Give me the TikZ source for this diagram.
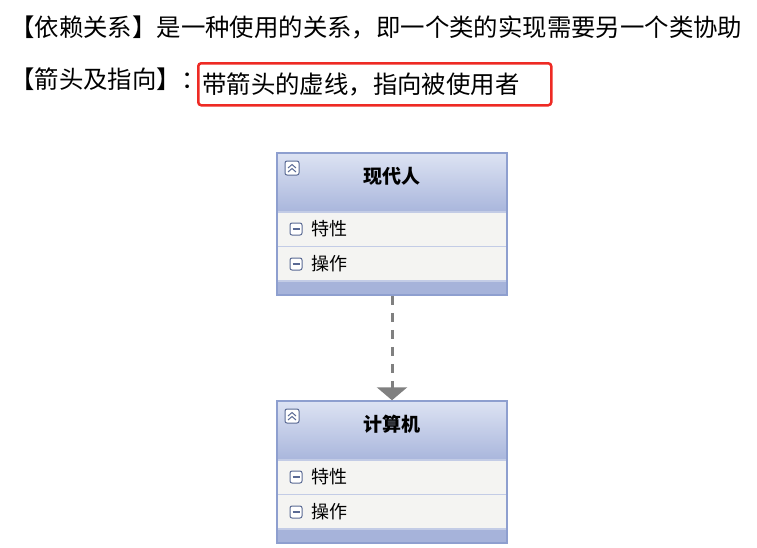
\documentclass[tikz,border=0pt]{standalone}
\usepackage{fontspec}
\setmainfont{Noto Sans CJK SC}
\usepackage{tikz}
\usetikzlibrary{arrows.meta,positioning,calc}
\definecolor{umlborder}{HTML}{8E9FCF}
\definecolor{hdtop}{HTML}{DDE3F3}
\definecolor{hdbot}{HTML}{A9B6DC}
\definecolor{rowfill}{HTML}{F4F4F2}
\definecolor{rowline}{HTML}{C3CCE6}
\definecolor{footfill}{HTML}{A6B3DA}
\definecolor{iconline}{HTML}{5A6A94}
\definecolor{deparrow}{HTML}{808080}
\definecolor{markred}{HTML}{EE2A24}
\tikzset{
  >=Stealth,
  classbox/.style={rectangle, draw=umlborder, line width=1.5pt, minimum width=230pt, minimum height=142pt, inner sep=0pt},
  ctitle/.style={font=\bfseries\fontsize{19}{21}\selectfont},
  member/.style={font=\fontsize{18}{20}\selectfont, anchor=west, inner sep=0pt},
  minusbox/.style={rectangle, draw=iconline, fill=white, rounded corners=2pt, minimum size=12pt, inner sep=0pt, line width=1pt},
  txt/.style={font=\fontsize{24.4}{26}\selectfont, anchor=west, inner sep=0pt},
  redbox/.style={draw=markred, line width=2.5pt, rounded corners=3pt, anchor=north west, minimum height=42pt, text width=345pt, inner xsep=4pt, align=left, font=\fontsize{24.4}{26}\selectfont},
  dep/.style={-{Triangle[width=30pt,length=13pt]}, deparrow, line width=3pt, dash pattern=on 9pt off 8pt}
}
\begin{document}
\begin{tikzpicture}[x=1pt,y=-1pt]
    \useasboundingbox (0,0) rectangle (757,547);

    % Text lines
    \node[txt] (desc) at (10,27) {【依赖关系】是一种使用的关系，即一个类的实现需要另一个类协助};
    \node[txt] (head) at (10,79) {【箭头及指向】：};
    \node[redbox] (usage) at (197,62) {带箭头的虚线，指向被使用者};

    % Classes
    \foreach \nm/\yy/\ttl in {modern/153/现代人, computer/401/计算机} {
        \shade[top color=hdtop, bottom color=hdbot] (277,\yy) rectangle (507,\yy+59);
        \fill[rowfill] (277,\yy+59) rectangle (507,\yy+128);
        \fill[footfill] (277,\yy+128) rectangle (507,\yy+142);
        \draw[rowline, line width=1.2pt] (277,\yy+59) -- (507,\yy+59);
        \draw[rowline, line width=1.2pt] (277,\yy+93.5) -- (507,\yy+93.5);
        \draw[rowline, line width=1.2pt] (277,\yy+128) -- (507,\yy+128);
        \node[classbox] (\nm) at (392,\yy+71) {};
        % collapse icon
        \node[minusbox, minimum size=14pt] (\nm-fold) at (292,\yy+15) {};
        \draw[iconline, line width=1pt] (288,\yy+15) -- (292,\yy+11.5) -- (296,\yy+15);
        \draw[iconline, line width=1pt] (288,\yy+19) -- (292,\yy+15.5) -- (296,\yy+19);
        \node[ctitle] (\nm-title) at (392,\yy+23) {\ttl};
        % members
        \node[minusbox] (\nm-m1) at (296,\yy+76) {};
        \node[minusbox] (\nm-m2) at (296,\yy+111) {};
        \draw[iconline, line width=1.2pt] (292.5,\yy+76) -- (299.5,\yy+76);
        \draw[iconline, line width=1.2pt] (292.5,\yy+111) -- (299.5,\yy+111);
        \node[member, right=9pt of \nm-m1] (\nm-attr) {特性};
        \node[member, right=9pt of \nm-m2] (\nm-ops) {操作};
    }

    % Dependency
    \draw[dep] (modern.south) -- (computer.north);

\end{tikzpicture}
\end{document}
